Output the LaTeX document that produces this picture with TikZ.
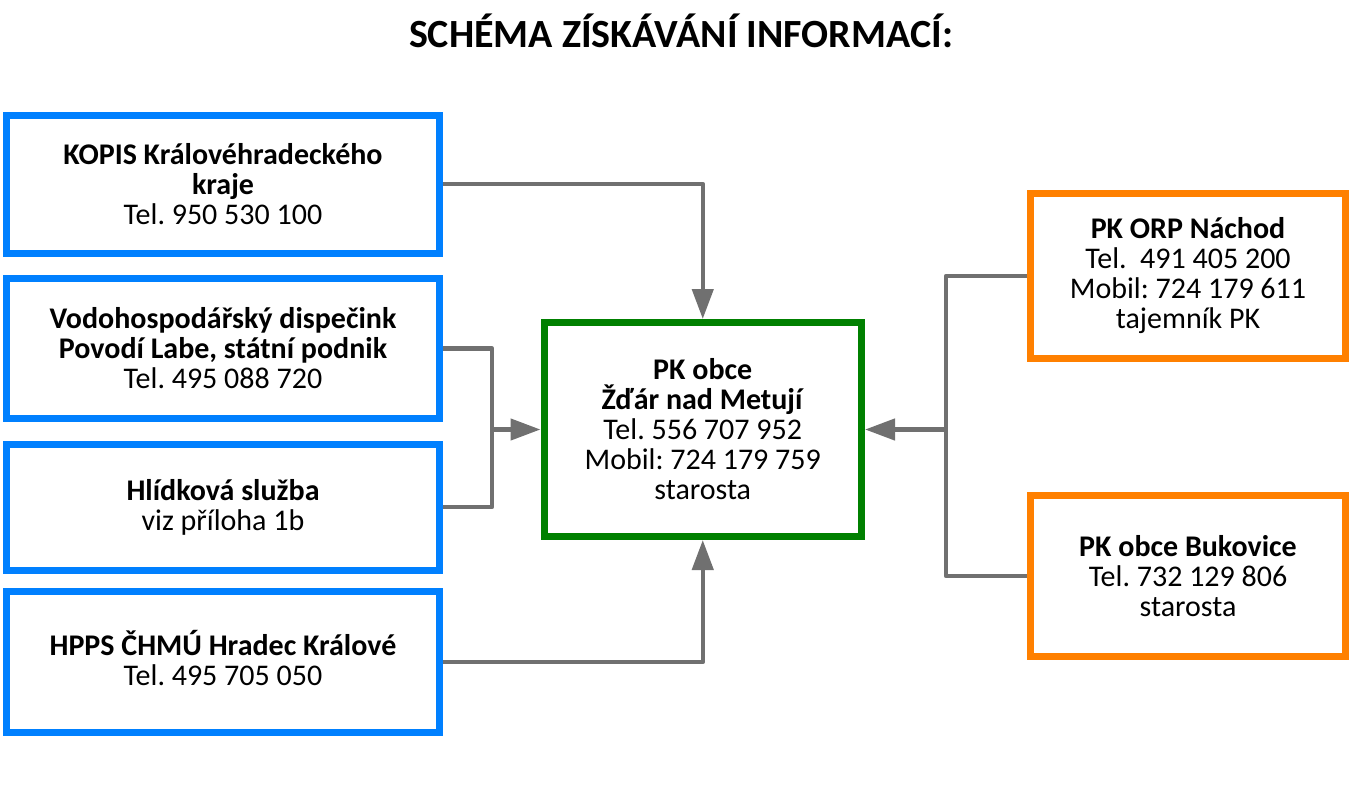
\documentclass[tikz,border=0pt]{standalone}
\usepackage{fontspec}
\setmainfont{Carlito}
\usetikzlibrary{arrows.meta}
\frenchspacing
\definecolor{bblue}{RGB}{0,128,255}
\definecolor{borange}{RGB}{255,128,0}
\definecolor{bgreen}{RGB}{0,128,0}
\definecolor{cgray}{RGB}{112,112,112}
\tikzset{
  box/.style={draw, line width=7pt, inner sep=0pt, align=center, fill=white,
    font=\fontsize{30}{30}\selectfont, line join=miter},
  bluebox/.style={box, draw=bblue, minimum width=433pt},
  orangebox/.style={box, draw=borange, minimum width=314.5pt},
  greenbox/.style={box, draw=bgreen, minimum width=317.5pt, minimum height=214pt},
  conn/.style={draw=cgray, line width=4.5pt, line join=round},
  arr/.style={conn, -{Triangle[length=30pt,width=21pt]}}
}
\begin{document}
\begin{tikzpicture}[x=1pt,y=-1pt]
\useasboundingbox (0,0) rectangle (1359,787);
\node[font=\bfseries\fontsize{40}{40}\selectfont, anchor=base] (title) at (681,47) {SCHÉMA ZÍSKÁVÁNÍ INFORMACÍ:};

\node[bluebox, minimum height=138pt] (b1) at (223,184) {\textbf{KOPIS Královéhradeckého}\\\textbf{kraje}\\Tel. 950 530 100};
\node[bluebox, minimum height=140pt] (b2) at (223,348.5) {\textbf{Vodohospodářský dispečink}\\\textbf{Povodí Labe, státní podnik}\\Tel. 495 088 720};
\node[bluebox, minimum height=126pt] (b3) at (223,507) {\textbf{Hlídková služba}\\viz příloha 1b};
\node[bluebox, minimum height=141pt] (b4) at (223,662) {\textbf{HPPS ČHMÚ Hradec Králové}\\Tel. 495 705 050\\[-30pt]\strut};

\node[greenbox] (g) at (702.75,429.5) {\textbf{PK obce}\\\textbf{Žďár nad Metují}\\Tel. 556 707 952\\Mobil: 724 179 759\\starosta};

\node[orangebox, minimum height=165.5pt] (o1) at (1188,276) {\textbf{PK ORP Náchod}\\Tel.\ \ 491 405 200\\Mobil: 724 179 611\\tajemník PK};
\node[orangebox, minimum height=161.5pt] (o2) at (1188,576) {\textbf{PK obce Bukovice}\\Tel. 732 129 806\\starosta};

\coordinate (lj) at (492,429.5);
\coordinate (rj) at (946,429.5);

\draw[arr] (b1.east) -| (g.north);
\draw[arr] (b4.east) -| (g.south);
\draw[conn] (b2.east) -| (lj) |- (b3.east);
\draw[arr] (lj) -- (g.west);
\draw[conn] (o1.west) -| (rj) |- (o2.west);
\draw[arr] (rj) -- (g.east);
\end{tikzpicture}
\end{document}
